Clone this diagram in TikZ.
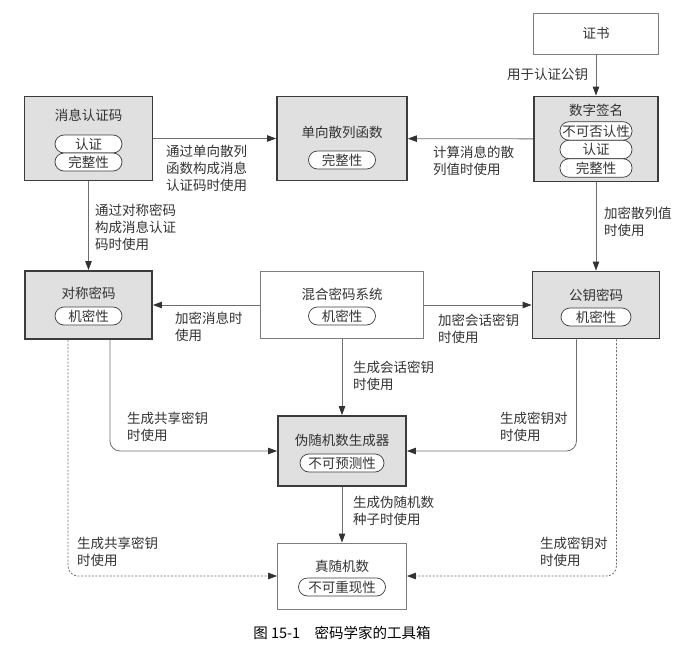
\documentclass[tikz,border=0pt]{standalone}
\usepackage{fontspec}
\setmainfont{Noto Sans CJK SC}
\usepackage{xcolor}
\usetikzlibrary{arrows.meta}
\definecolor{gfill}{RGB}{224,224,224}
\definecolor{gedge}{RGB}{60,60,60}
\definecolor{wedge}{RGB}{125,125,125}
\definecolor{lijn}{RGB}{110,110,110}
\definecolor{tip}{RGB}{50,50,50}
\definecolor{txt}{RGB}{50,50,50}

\begin{document}
\begin{tikzpicture}[x=1pt, y=-1pt, font=\fontsize{13.5}{17}\selectfont, text=txt,
        gbox/.style={draw=gedge, line width=1.8pt, fill=gfill, inner sep=0pt},
        wbox/.style={draw=wedge, line width=0.8pt, fill=white, inner sep=0pt},
        prop/.style={draw=gedge, line width=0.7pt, fill=white, rounded corners=9pt,
                     minimum width=67pt, minimum height=18pt, inner sep=0pt},
        con/.style={draw=lijn, line width=0.8pt, -{Triangle[length=9pt, width=6.5pt, color=tip]}},
        dcon/.style={con, dash pattern=on 2pt off 1.6pt},
        lab/.style={align=left, anchor=west, inner sep=0pt}]

    \useasboundingbox (0, 0) rectangle (697, 667);

    % bovenste rij
    \node[gbox, minimum width=128, minimum height=84] (mac) at (88.5, 138.5) {};
    \node (mact) at (88.5, 115) {消息认证码};
    \node[prop] (mac1) at (88.5, 144) {认证};
    \node[prop] (mac2) at (88.5, 162) {完整性};

    \node[gbox, minimum width=130, minimum height=84] (hash) at (342, 138.5) {};
    \node (hasht) at (342, 132) {单向散列函数};
    \node[prop] (hash1) at (342, 160) {完整性};

    \node[wbox, minimum width=125, minimum height=41] (cert) at (596, 33.5) {};
    \node (certt) at (596, 33.5) {证书};

    \node[gbox, minimum width=124, minimum height=85] (sig) at (596, 139) {};
    \node (sigt) at (596, 110) {数字签名};
    \node[prop, minimum width=72, minimum height=18.5] (sig1) at (596, 131) {不可否认性};
    \node[prop, minimum width=72, minimum height=18.5] (sig2) at (596, 149.5) {认证};
    \node[prop, minimum width=72, minimum height=18.5] (sig3) at (596, 168) {完整性};

    % middelste rij
    \node[gbox, minimum width=127, minimum height=68] (sym) at (88.5, 305) {};
    \node (symt) at (88.5, 293) {对称密码};
    \node[prop] (sym1) at (88.5, 316) {机密性};

    \node[wbox, minimum width=163, minimum height=67] (hyb) at (342, 305) {};
    \node (hybt) at (342, 294) {混合密码系统};
    \node[prop] (hyb1) at (342, 316) {机密性};

    \node[gbox, minimum width=127, minimum height=67] (pub) at (596, 305) {};
    \node (pubt) at (596, 295) {公钥密码};
    \node[prop, minimum width=70] (pub1) at (596, 317) {机密性};

    % random getallen
    \node[gbox, minimum width=128, minimum height=70] (prng) at (342, 451) {};
    \node (prngt) at (342, 440) {伪随机数生成器};
    \node[prop, minimum width=84] (prng1) at (342, 463) {不可预测性};

    \node[wbox, minimum width=129, minimum height=66] (trng) at (342, 576) {};
    \node (trngt) at (342, 566) {真随机数};
    \node[prop, minimum width=87] (trng1) at (342, 587) {不可重现性};

    % verbindingen
    \draw[con] (mac) -- (hash);
    \draw[con] (sig) -- (hash);
    \draw[con] (cert) -- (sig);
    \draw[con] (mac) -- (sym);
    \draw[con] (sig) -- (pub);
    \draw[con] (hyb) -- (sym);
    \draw[con] (hyb) -- (pub);
    \draw[con] (hyb) -- (prng);
    \draw[con] (prng) -- (trng);
    \draw[con, rounded corners=10pt] ([xshift=21.5pt]sym.south) |- (prng.west);
    \draw[con, rounded corners=10pt] ([xshift=-19.5pt]pub.south) |- (prng.east);
    \draw[dcon, rounded corners=10pt] ([xshift=-20.5pt]sym.south) |- (trng.west);
    \draw[dcon, rounded corners=10pt] ([xshift=20.5pt]pub.south) |- (trng.east);

    % labels
    \node[lab] (l1) at (166, 168) {通过单向散列\\函数构成消息\\认证码时使用};
    \node[lab] (l2) at (433, 160.5) {计算消息的散\\列值时使用};
    \node[lab] (l3) at (507, 74) {用于认证公钥};
    \node[lab] (l4) at (95, 227) {通过对称密码\\构成消息认证\\码时使用};
    \node[lab] (l5) at (604, 221.5) {加密散列值\\时使用};
    \node[lab] (l6) at (175, 326.5) {加密消息时\\使用};
    \node[lab] (l7) at (438, 328.5) {加密会话密钥\\时使用};
    \node[lab] (l8) at (353, 375.5) {生成会话密钥\\时使用};
    \node[lab] (l9) at (127, 426.5) {生成共享密钥\\时使用};
    \node[lab] (l10) at (500, 426.5) {生成密钥对\\时使用};
    \node[lab] (l11) at (353, 510.5) {生成伪随机数\\种子时使用};
    \node[lab] (l12) at (77, 551.5) {生成共享密钥\\时使用};
    \node[lab] (l13) at (540, 551.5) {生成密钥对\\时使用};

    % onderschrift
    \node[text=black, font=\fontsize{14.5}{17}\selectfont] (cap) at (342, 633) {图 15-1\quad 密码学家的工具箱};

\end{tikzpicture}
\end{document}
